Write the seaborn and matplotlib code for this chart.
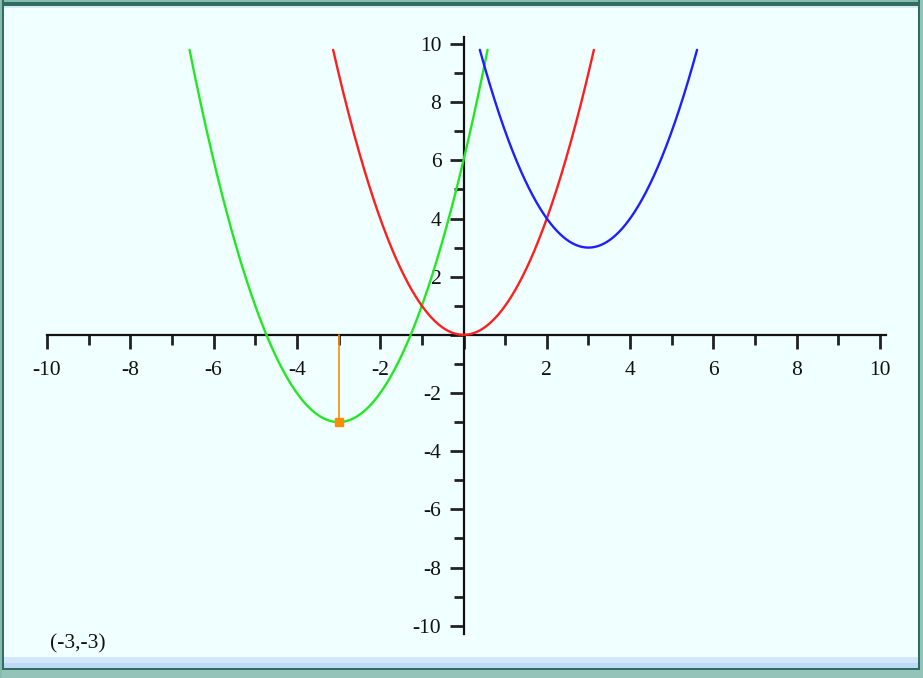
import numpy as np
import pandas as pd
import matplotlib
matplotlib.use("Agg")
import matplotlib.pyplot as plt
from matplotlib.patches import Rectangle
from matplotlib.ticker import FixedLocator, FuncFormatter
import seaborn as sns

# Parabolas y = (x - h)^2 + k, each drawn up to y = y_cap
curve_names = ["green", "red", "blue"]
vertex_h = [-3.0, 0.0, 3.0]
vertex_k = [-3.0, 0.0, 3.0]
curve_colors = {"green": "#22E822", "red": "#FF1E1E", "blue": "#1E1EFF"}
y_cap = 9.8

# Highlighted vertex of the green parabola
point_x = -3.0
point_y = -3.0
point_label = "(-3,-3)"

# Axis range and ticks
axis_min, axis_max = -10, 10
major_step, minor_step = 2, 1

sns.set_theme(style="white")
plt.rcParams["font.family"] = ["Liberation Serif", "DejaVu Serif"]
plt.rcParams["axes.unicode_minus"] = False

W, H, DPI = 923, 678, 100
fig = plt.figure(figsize=(W / DPI, H / DPI), dpi=DPI)
fig.patch.set_facecolor("#F0FFFF")

# window frame around the plotting area
def frame_rect(x0, y0, w, h, color):
    fig.patches.append(Rectangle((x0 / W, 1 - (y0 + h) / H), w / W, h / H,
                                 transform=fig.transFigure, color=color,
                                 lw=0, zorder=5))

frame_rect(0, 657, W, 11, "#D3E7FB")
frame_rect(0, 663, W, 5, "#BFD9F7")
frame_rect(0, 668, W, 2, "#2F6E5E")
frame_rect(0, 670, W, 8, "#93C3B9")
frame_rect(0, 0, W, 2, "#86BCB0")
frame_rect(0, 2, W, 4, "#2F6E5E")
frame_rect(0, 6, W, 2, "#D5E9FB")
frame_rect(0, 0, 2, H, "#86BCB0")
frame_rect(2, 0, 2, 670, "#2F6E5E")
frame_rect(W - 5, 0, 2, 670, "#2F6E5E")
frame_rect(W - 3, 0, 3, H, "#93C3B9")

ax = fig.add_axes([0, 0, 1, 1])
ax.patch.set_visible(False)

# pixel mapping: x=-10 at px 47, x=10 at px 880; y=10 at px 44, y=-10 at px 625.7
sx = (880 - 47) / 20.0
sy = (625.7 - 44) / 20.0
ax.set_xlim(-10 - 47 / sx, 10 + (W - 880) / sx)
ax.set_ylim(-10 - (H - 625.7) / sy, 10 + 44 / sy)

# curve samples
frames = []
for name, h, k in zip(curve_names, vertex_h, vertex_k):
    half = np.sqrt(y_cap - k)
    xs = np.linspace(h - half, h + half, 400)
    frames.append(pd.DataFrame({"x": xs, "y": (xs - h) ** 2 + k, "curve": name}))
df = pd.concat(frames, ignore_index=True)

sns.lineplot(data=df, x="x", y="y", hue="curve", palette=curve_colors,
             sort=False, estimator=None, linewidth=1.7, legend=False, ax=ax,
             zorder=3)
ax.set_xlabel("")
ax.set_ylabel("")

# vertical drop line and marker at the vertex
ax.plot([point_x, point_x], [0, point_y], color="#FF8C00", lw=1.2, zorder=4)
ax.plot([point_x], [point_y], marker="s", color="#FF8C00", ms=6, zorder=4)

# axes through the origin
for side in ("top", "right"):
    ax.spines[side].set_visible(False)
ax.spines["left"].set_position(("data", 0))
ax.spines["bottom"].set_position(("data", 0))
ax.spines["bottom"].set_bounds(axis_min, axis_max + 0.15)
ax.spines["left"].set_bounds(axis_min - 0.3, axis_max + 0.25)
for side in ("left", "bottom"):
    ax.spines[side].set_color("#111111")
    ax.spines[side].set_linewidth(1.6)
    ax.spines[side].set_zorder(2)

ticks = list(range(axis_min, axis_max + 1, major_step))
minor_ticks = [v for v in range(axis_min, axis_max + 1, minor_step)
               if v % major_step != 0]
ax.set_xticks(ticks)
ax.set_yticks(ticks)
ax.xaxis.set_minor_locator(FixedLocator(minor_ticks))
ax.yaxis.set_minor_locator(FixedLocator(minor_ticks))
fmt = FuncFormatter(lambda v, p: "" if abs(v) < 1e-9 else f"{int(round(v))}")
ax.xaxis.set_major_formatter(fmt)
ax.yaxis.set_major_formatter(fmt)
ax.xaxis.set_ticks_position("bottom")
ax.yaxis.set_ticks_position("left")

ax.tick_params(which="major", direction="out", length=10, width=2.0,
               color="#222222", labelsize=15.5, labelcolor="#111111")
ax.tick_params(which="minor", direction="out", length=7, width=2.0,
               color="#222222")
ax.tick_params(axis="x", which="major", pad=9)
ax.tick_params(axis="y", which="major", pad=6)

fig.text(50 / W, 1 - 644 / H, point_label, fontsize=15.5, color="#111111",
         ha="left", va="center")

fig.savefig("out.png", dpi=DPI, facecolor=fig.get_facecolor())
